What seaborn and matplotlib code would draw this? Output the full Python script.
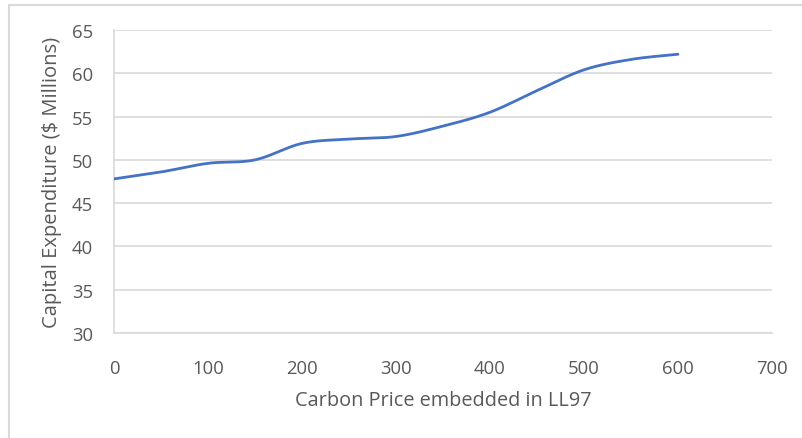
import numpy as np
import pandas as pd
import matplotlib
matplotlib.use("Agg")
import matplotlib.pyplot as plt
import seaborn as sns
from matplotlib.patches import Rectangle

carbon_price = [0, 50, 100, 150, 200, 250, 300, 350, 400, 450, 500, 550, 600]
capex = [47.8, 48.6, 49.6, 50.0, 51.9, 52.4, 52.7, 53.9, 55.5, 58.0, 60.4, 61.6, 62.2]

x_label = "Carbon Price embedded in LL97"
y_label = "Capital Expenditure ($ Millions)"
x_ticks = [0, 100, 200, 300, 400, 500, 600, 700]
y_ticks = [30, 35, 40, 45, 50, 55, 60, 65]


def smooth(xs, ys, n=40):
    # Excel-style smoothed line (Catmull-Rom Bezier)
    P = np.column_stack([xs, ys]).astype(float)
    out = []
    m = len(P)
    for i in range(m - 1):
        p0 = P[i - 1] if i > 0 else P[i]
        p1 = P[i]
        p2 = P[i + 1]
        p3 = P[i + 2] if i + 2 < m else P[i + 1]
        c1 = p1 + (p2 - p0) / 6.0
        c2 = p2 - (p3 - p1) / 6.0
        t = np.linspace(0, 1, n)[:, None]
        seg = ((1 - t) ** 3) * p1 + 3 * ((1 - t) ** 2) * t * c1 + 3 * (1 - t) * t ** 2 * c2 + t ** 3 * p2
        out.append(seg if i == 0 else seg[1:])
    return np.vstack(out)


sns.set_style("white")
plt.rcParams["font.family"] = ["Open Sans", "DejaVu Sans"]

fig = plt.figure(figsize=(8.02, 4.39), dpi=100)
ax = fig.add_axes([114 / 802, 1 - 334 / 439, (772 - 114) / 802, (334 - 31) / 439])

curve = smooth(carbon_price, capex)
df = pd.DataFrame({"x": curve[:, 0], "y": curve[:, 1]})
sns.lineplot(data=df, x="x", y="y", ax=ax, color="#4472C4", linewidth=2.0, sort=False, zorder=3)

ax.set_xlim(0, 700)
ax.set_ylim(30, 65)
ax.set_xticks(x_ticks)
ax.set_yticks(y_ticks)
ax.set_xticklabels([str(v) for v in x_ticks])
ax.set_yticklabels([str(v) for v in y_ticks])
ax.grid(axis="y", color="#d9d9d9", linewidth=1.2)
ax.grid(axis="x", visible=False)
for s in ["top", "right"]:
    ax.spines[s].set_visible(False)
ax.spines["left"].set_color("#d9d9d9")
ax.spines["bottom"].set_color("#d9d9d9")
ax.spines["left"].set_linewidth(1.2)
ax.spines["bottom"].set_linewidth(1.2)
ax.tick_params(axis="both", length=0, labelsize=13.3, colors="#595959")
ax.tick_params(axis="y", pad=15)
ax.tick_params(axis="x", pad=19)
ax.set_xlabel(x_label, fontsize=14.3, color="#595959", labelpad=9)
ax.set_ylabel(y_label, fontsize=14.5, color="#595959", labelpad=7)

fig.patches.append(Rectangle((9 / 802, -0.1), 1.2, 1 - 6 / 439 + 0.1, transform=fig.transFigure,
                             fill=False, edgecolor="#d9d9d9", linewidth=1.5, zorder=0))

fig.savefig("out.png", dpi=100)
